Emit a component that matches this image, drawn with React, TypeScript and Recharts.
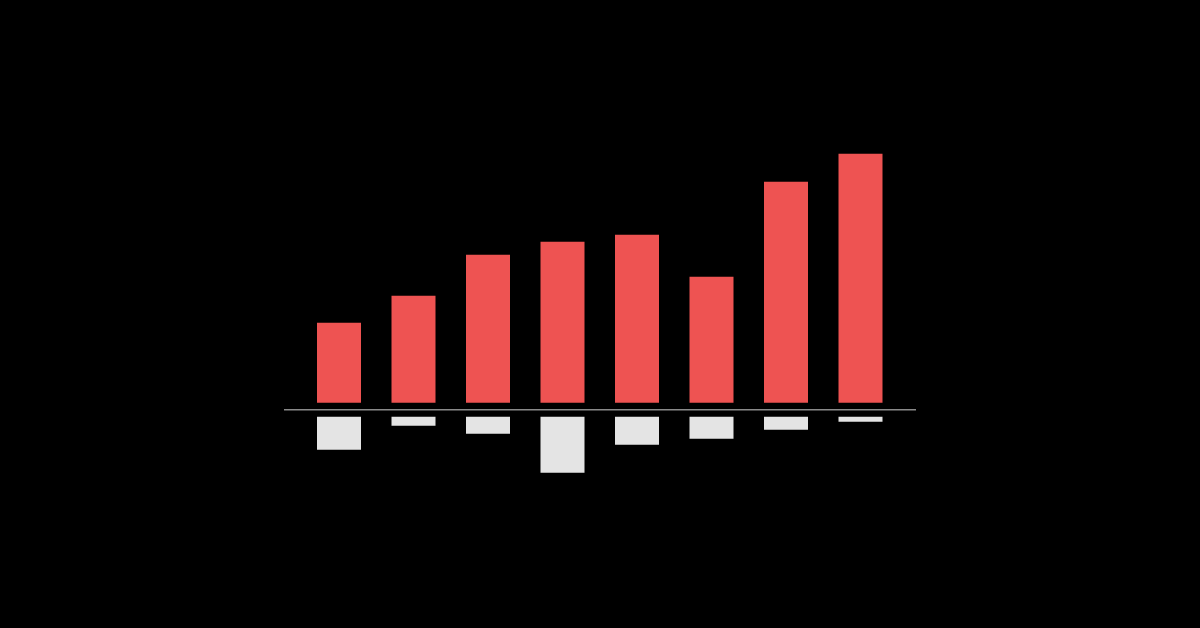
import React from 'react';
import { BarChart, Bar, XAxis, YAxis, ReferenceLine } from 'recharts';

// categories and values (arbitrary units, ~1 unit = 1px)
const categories = ['A', 'B', 'C', 'D', 'E', 'F', 'G', 'H'];
const upValues = [80, 107, 148, 161, 168, 126, 221, 249];
const downValues = [33, 9, 17, 56, 28, 22, 13, 5];
// empty space between the baseline and each bar
const GAP = 7;

const data = categories.map((name, i) => ({
  name,
  gapUp: GAP,
  up: upValues[i],
  gapDown: -GAP,
  down: -downValues[i],
}));

export default function App() {
  return (
    <div
      style={{
        position: 'absolute',
        left: 0,
        top: 0,
        width: 1200,
        height: 628,
        background: '#000',
      }}
    >
      <BarChart
        width={1200}
        height={628}
        data={data}
        stackOffset="sign"
        margin={{ top: 109.8, right: 284, bottom: 118.2, left: 284 }}
      >
        <XAxis dataKey="name" hide padding={{ left: 18, right: 18 }} />
        <YAxis hide domain={[-100, 300]} />
        <Bar dataKey="gapUp" stackId="a" fill="transparent" barSize={44} isAnimationActive={false} />
        <Bar dataKey="up" stackId="a" fill="#ee5352" barSize={44} isAnimationActive={false} />
        <Bar dataKey="gapDown" stackId="a" fill="transparent" barSize={44} isAnimationActive={false} />
        <Bar dataKey="down" stackId="a" fill="#e4e4e4" barSize={44} isAnimationActive={false} />
        <ReferenceLine y={0} stroke="#8a8a8a" strokeWidth={1.5} />
      </BarChart>
    </div>
  );
}
